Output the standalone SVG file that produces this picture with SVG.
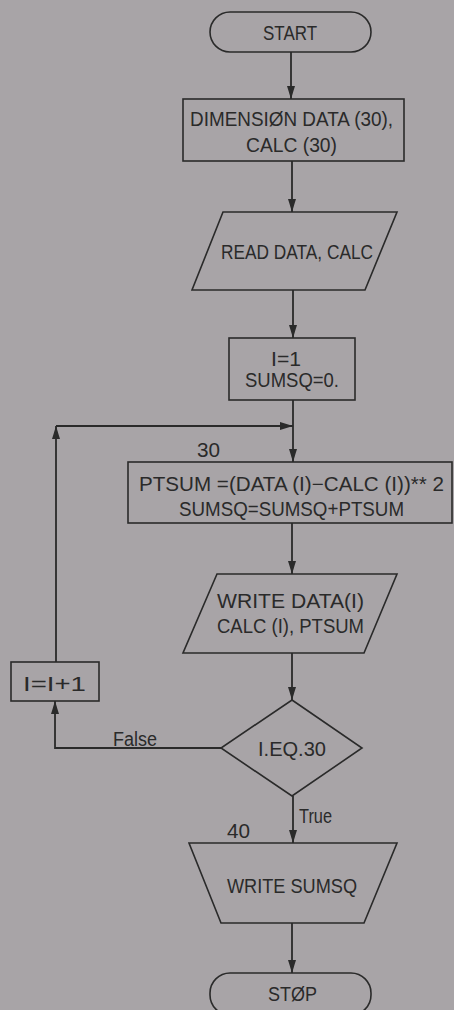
<svg xmlns="http://www.w3.org/2000/svg" width="454" height="1010" viewBox="0 0 454 1010">
<style>
.s{fill:none;stroke:#2a2a2a;stroke-width:1.6}
.t{font-family:"Liberation Sans",Arial,sans-serif;font-size:20px;fill:#2a2a2a}
.c{stroke:#2a2a2a;stroke-width:1.8;fill:none;marker-end:url(#ah)}
</style>
<defs>
<marker id="ah" markerUnits="userSpaceOnUse" markerWidth="14" markerHeight="10" viewBox="0 0 14 10" refX="13" refY="5" orient="auto">
<path d="M0,1 L13,5 L0,9 Z" fill="#2a2a2a"/>
</marker>
</defs>
<rect x="0" y="0" width="454" height="1010" fill="#a8a4a7"/>
<g id="connectors">
<path class="c" d="M291,52 V99"/>
<path class="c" d="M292,161 V212"/>
<path class="c" d="M293,290 V338"/>
<path class="c" d="M293,400 V462"/>
<path class="c" d="M292,523 V574"/>
<path class="c" d="M292,653 V700"/>
<path class="c" d="M221,748 H55 V701"/>
<path class="c" d="M56,662 V426"/>
<path class="c" d="M56,426 H293"/>
<path class="c" d="M293,796 V843"/>
<path class="c" d="M292,923 V973"/>
<text class="t" x="113" y="746" textLength="44" lengthAdjust="spacingAndGlyphs">False</text>
<text class="t" x="299" y="823" textLength="33" lengthAdjust="spacingAndGlyphs">True</text>
</g>
<g id="start">
<rect class="s" x="210" y="12" width="161" height="40" rx="20"/>
<text class="t" x="263" y="40" textLength="54" lengthAdjust="spacingAndGlyphs">START</text>
</g>
<g id="dimension">
<rect class="s" x="183" y="99" width="221" height="62"/>
<text class="t" x="190" y="126" textLength="203" lengthAdjust="spacingAndGlyphs">DIMENSIØN DATA (30),</text>
<text class="t" x="246" y="152" textLength="91" lengthAdjust="spacingAndGlyphs">CALC (30)</text>
</g>
<g id="read">
<polygon class="s" points="223,212 397,212 365,290 192,290"/>
<text class="t" x="221" y="259" textLength="152" lengthAdjust="spacingAndGlyphs">READ DATA, CALC</text>
</g>
<g id="init">
<rect class="s" x="229" y="338" width="126" height="62"/>
<text class="t" x="271" y="366" textLength="30" lengthAdjust="spacingAndGlyphs">I=1</text>
<text class="t" x="245" y="387" textLength="94" lengthAdjust="spacingAndGlyphs">SUMSQ=0.</text>
</g>
<g id="ptsum">
<text class="t" x="197" y="457" textLength="23" lengthAdjust="spacingAndGlyphs">30</text>
<rect class="s" x="128" y="462" width="324" height="61"/>
<text class="t" x="139" y="491" textLength="305" lengthAdjust="spacingAndGlyphs">PTSUM =(DATA (I)−CALC (I))** 2</text>
<text class="t" x="179" y="516" textLength="225" lengthAdjust="spacingAndGlyphs">SUMSQ=SUMSQ+PTSUM</text>
</g>
<g id="writedata">
<polygon class="s" points="217,574 397,574 364,653 183,653"/>
<text class="t" x="217" y="608" textLength="147" lengthAdjust="spacingAndGlyphs">WRITE DATA(I)</text>
<text class="t" x="217" y="633" textLength="147" lengthAdjust="spacingAndGlyphs">CALC (I), PTSUM</text>
</g>
<g id="increment">
<rect class="s" x="11" y="662" width="88" height="39"/>
<text class="t" x="23" y="691" textLength="63" lengthAdjust="spacingAndGlyphs">I=I+1</text>
</g>
<g id="decision">
<polygon class="s" points="292,700 362,748 292,796 221,748"/>
<text class="t" x="258" y="756" textLength="68" lengthAdjust="spacingAndGlyphs">I.EQ.30</text>
</g>
<g id="writesumsq">
<text class="t" x="227" y="838" textLength="23" lengthAdjust="spacingAndGlyphs">40</text>
<polygon class="s" points="189,843 397,843 364,923 221,923"/>
<text class="t" x="227" y="893" textLength="130" lengthAdjust="spacingAndGlyphs">WRITE SUMSQ</text>
</g>
<g id="stop">
<rect class="s" x="210" y="973" width="161" height="42" rx="20"/>
<text class="t" x="268" y="1001" textLength="49" lengthAdjust="spacingAndGlyphs">STØP</text>
</g>
</svg>
